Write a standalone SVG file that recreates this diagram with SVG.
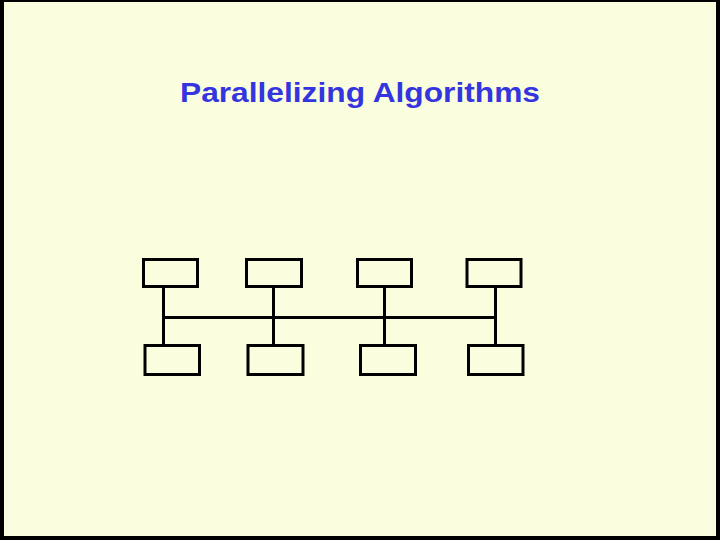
<svg xmlns="http://www.w3.org/2000/svg" width="720" height="540" viewBox="0 0 720 540">
<style>
.node rect{fill:none;stroke:#000;stroke-width:3}
.conn line{stroke:#000;stroke-width:3}
.title{font-family:"Liberation Sans",Arial,sans-serif;font-weight:bold;font-size:28px;fill:#3535e0}
</style>
<rect x="0" y="0" width="720" height="540" fill="#000"/>
<rect x="4" y="2" width="712" height="534" fill="#fafedf"/>
<text class="title" x="180" y="102" textLength="360" lengthAdjust="spacingAndGlyphs">Parallelizing Algorithms</text>
<g id="connectors" class="conn">
<line x1="163.5" y1="288" x2="163.5" y2="344"/>
<line x1="273.5" y1="288" x2="273.5" y2="344"/>
<line x1="384.5" y1="288" x2="384.5" y2="344"/>
<line x1="495.5" y1="288" x2="495.5" y2="344"/>
<line x1="162" y1="317.5" x2="497" y2="317.5"/>
</g>
<g id="top1" class="node"><rect x="143.5" y="259.5" width="54" height="27"/></g>
<g id="top2" class="node"><rect x="246.5" y="259.5" width="55" height="27"/></g>
<g id="top3" class="node"><rect x="357.5" y="259.5" width="54" height="27"/></g>
<g id="top4" class="node"><rect x="467" y="259.5" width="54" height="27"/></g>
<g id="bot1" class="node"><rect x="145" y="345.5" width="54.5" height="29"/></g>
<g id="bot2" class="node"><rect x="248" y="345.5" width="55" height="29"/></g>
<g id="bot3" class="node"><rect x="360.5" y="345.5" width="55" height="29"/></g>
<g id="bot4" class="node"><rect x="468.5" y="345.5" width="54.5" height="29"/></g>
</svg>
